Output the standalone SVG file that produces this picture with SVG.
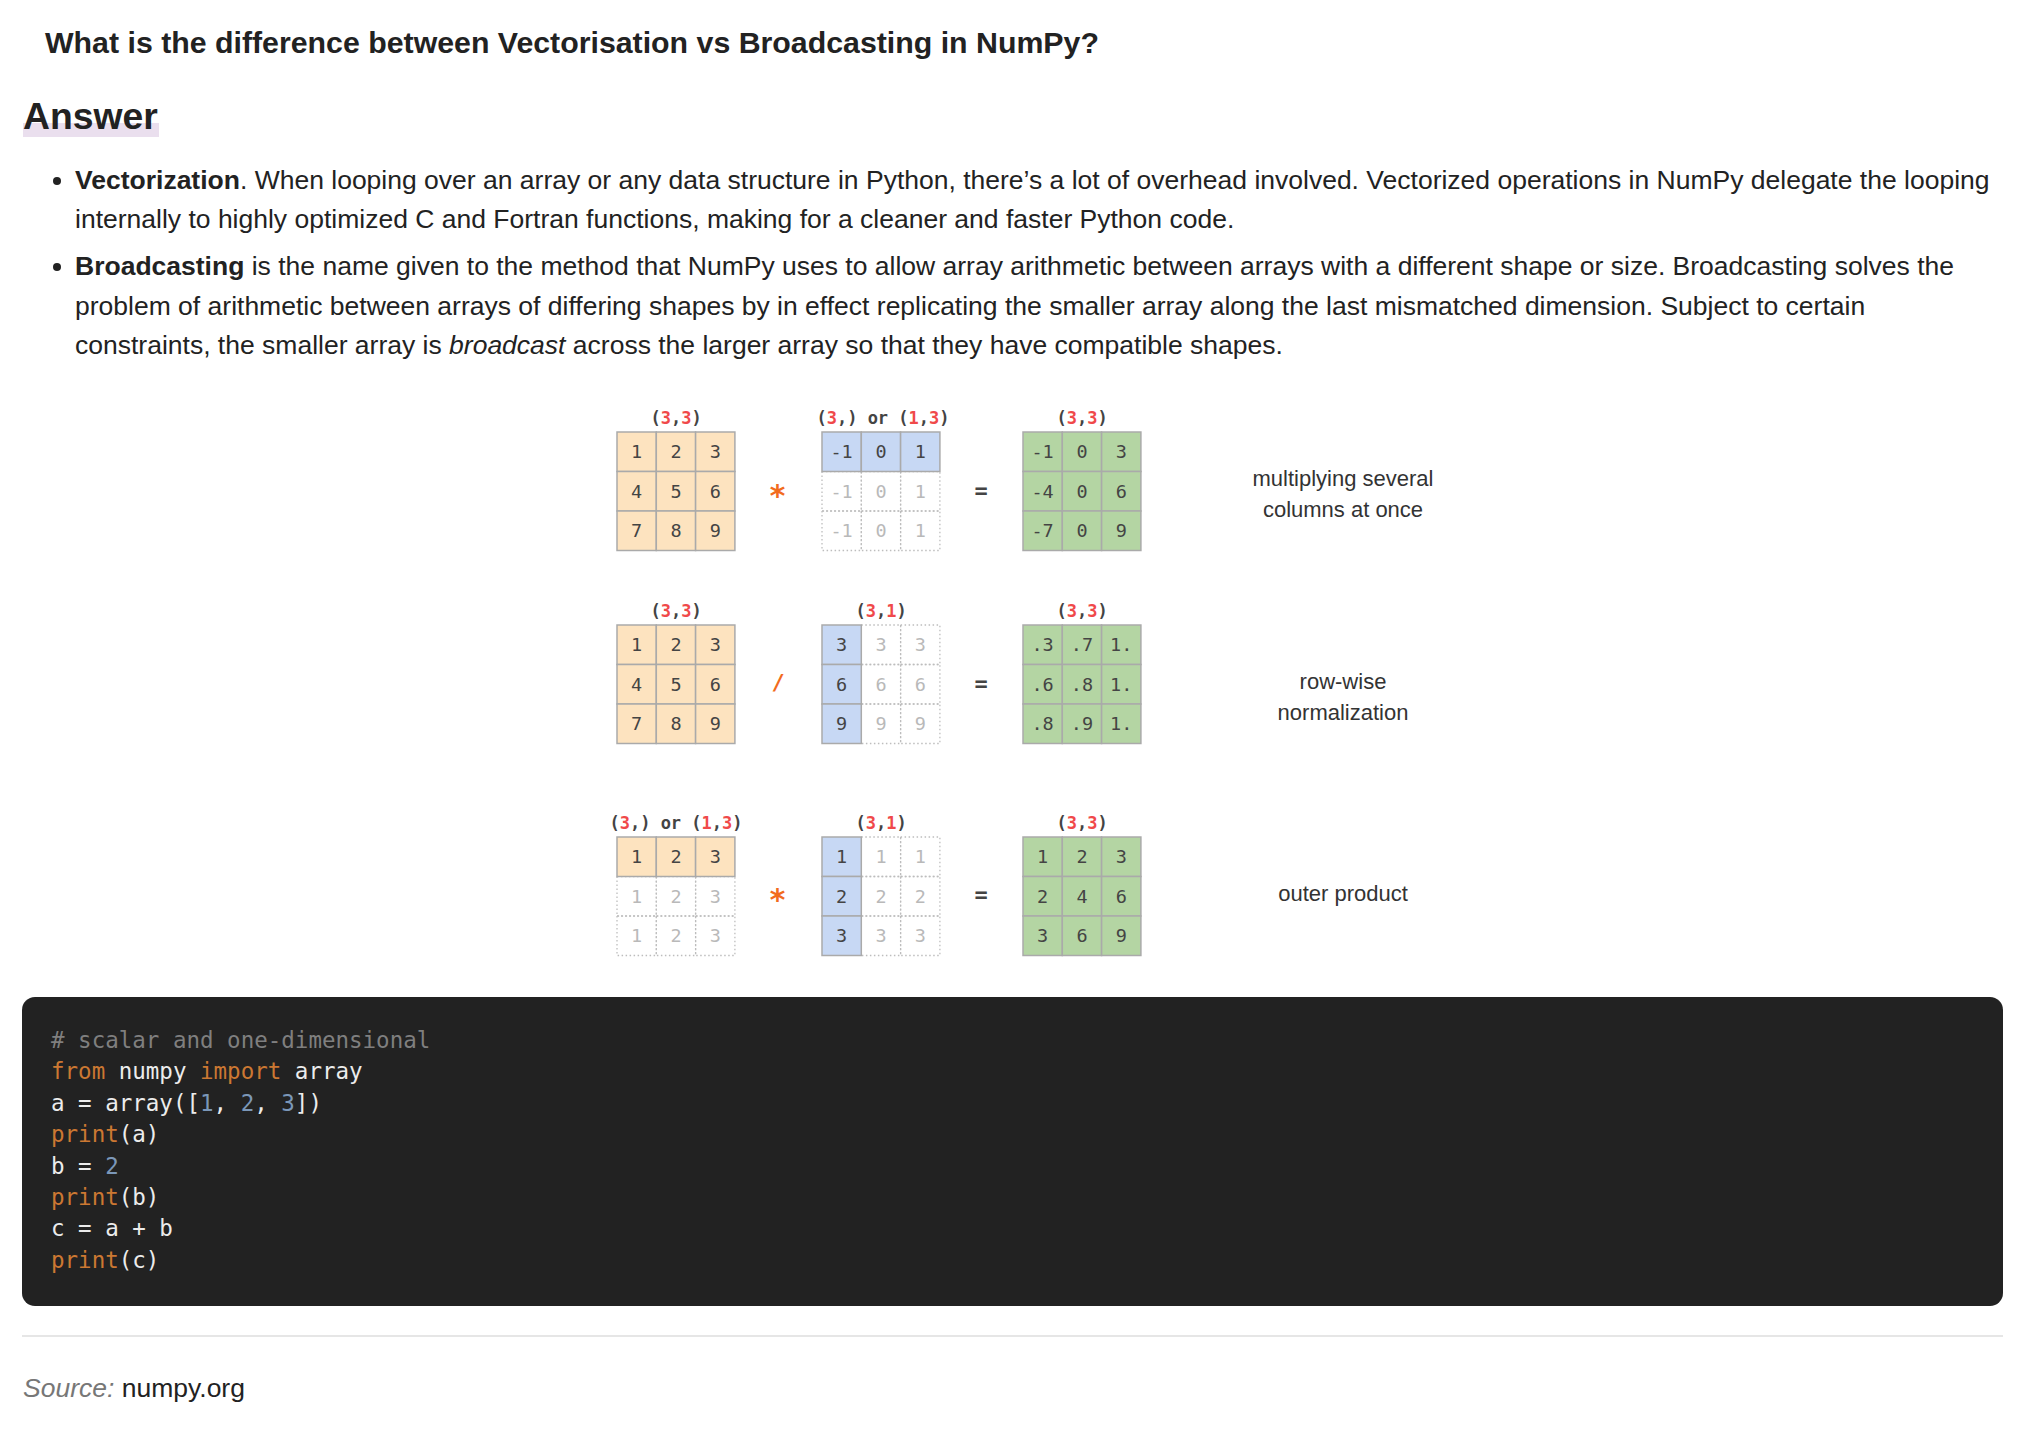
<svg xmlns="http://www.w3.org/2000/svg" width="2038" height="1440" viewBox="0 0 2038 1440">
<style>
.body{font-family:"Liberation Sans",Arial,sans-serif;font-size:26.5px;fill:#222}
.b{font-weight:bold}
.o{fill:#fde3bf;stroke:#aaa;stroke-width:1.5}
.bl{fill:#c7d8f4;stroke:#aaa;stroke-width:1.5}
.g{fill:#b4d5a3;stroke:#aaa;stroke-width:1.5}
.gh{fill:none;stroke:#bdbdbd;stroke-width:1.3;stroke-dasharray:1.5 2.5}
.n{font-family:"DejaVu Sans Mono",monospace;font-size:18.5px;fill:#444;text-anchor:middle}
.f{fill:#b9b9b9}
.sh{font-family:"DejaVu Sans Mono",monospace;font-size:17px;font-weight:bold;fill:#444;text-anchor:middle}
.r{fill:#f0494a}
.op{font-family:"DejaVu Sans Mono",monospace;font-weight:bold;fill:#f26b1d;text-anchor:middle}
.eq{font-family:"DejaVu Sans Mono",monospace;font-weight:bold;font-size:22px;fill:#444;text-anchor:middle}
.lab{font-family:"Liberation Sans",Arial,sans-serif;font-size:22px;fill:#333;text-anchor:middle}
.code{font-family:"DejaVu Sans Mono",monospace;font-size:22.5px;fill:#ececec}
.kw{fill:#cc7832}
.num{fill:#7b97b8}
.cm{fill:#7f7f7f}
</style>
<rect width="2038" height="1440" fill="#fff"/>

<g id="heading">
<text class="body b" x="45" y="53" style="font-size:30.3px">What is the difference between Vectorisation vs Broadcasting in NumPy?</text>
<rect x="23" y="123" width="136" height="14" fill="#eadfee"/>
<text class="body b" x="23" y="129" style="font-size:37.3px">Answer</text>
</g>

<g id="bullets">
<circle cx="57" cy="181" r="4" fill="#222"/>
<text class="body" x="75" y="189"><tspan class="b">Vectorization</tspan>. When looping over an array or any data structure in Python, there’s a lot of overhead involved. Vectorized operations in NumPy delegate the looping</text>
<text class="body" x="75" y="228">internally to highly optimized C and Fortran functions, making for a cleaner and faster Python code.</text>
<circle cx="57" cy="267" r="4" fill="#222"/>
<text class="body" x="75" y="275"><tspan class="b">Broadcasting</tspan> is the name given to the method that NumPy uses to allow array arithmetic between arrays with a different shape or size. Broadcasting solves the</text>
<text class="body" x="75" y="315">problem of arithmetic between arrays of differing shapes by in effect replicating the smaller array along the last mismatched dimension. Subject to certain</text>
<text class="body" x="75" y="354">constraints, the smaller array is <tspan font-style="italic">broadcast</tspan> across the larger array so that they have compatible shapes.</text>
</g>

<g id="row1">
<g id="r1-a">
<text class="sh" x="676" y="424">(<tspan class="r">3</tspan>,<tspan class="r">3</tspan>)</text>
<rect class="o" x="617" y="432" width="39.3" height="39.5"/><rect class="o" x="656.3" y="432" width="39.3" height="39.5"/><rect class="o" x="695.6" y="432" width="39.3" height="39.5"/>
<rect class="o" x="617" y="471.5" width="39.3" height="39.5"/><rect class="o" x="656.3" y="471.5" width="39.3" height="39.5"/><rect class="o" x="695.6" y="471.5" width="39.3" height="39.5"/>
<rect class="o" x="617" y="511" width="39.3" height="39.5"/><rect class="o" x="656.3" y="511" width="39.3" height="39.5"/><rect class="o" x="695.6" y="511" width="39.3" height="39.5"/>
<text class="n" x="636.6" y="458">1</text><text class="n" x="676" y="458">2</text><text class="n" x="715.2" y="458">3</text>
<text class="n" x="636.6" y="497.5">4</text><text class="n" x="676" y="497.5">5</text><text class="n" x="715.2" y="497.5">6</text>
<text class="n" x="636.6" y="537">7</text><text class="n" x="676" y="537">8</text><text class="n" x="715.2" y="537">9</text>
</g>
<text id="r1-op" class="op" x="777.5" y="506" style="font-size:30px">*</text>
<g id="r1-b">
<text class="sh" x="883" y="424">(<tspan class="r">3</tspan>,) or (<tspan class="r">1</tspan>,<tspan class="r">3</tspan>)</text>
<rect class="gh" x="822" y="471.5" width="39.3" height="39.5"/><rect class="gh" x="861.3" y="471.5" width="39.3" height="39.5"/><rect class="gh" x="900.6" y="471.5" width="39.3" height="39.5"/>
<rect class="gh" x="822" y="511" width="39.3" height="39.5"/><rect class="gh" x="861.3" y="511" width="39.3" height="39.5"/><rect class="gh" x="900.6" y="511" width="39.3" height="39.5"/>
<rect class="bl" x="822" y="432" width="39.3" height="39.5"/><rect class="bl" x="861.3" y="432" width="39.3" height="39.5"/><rect class="bl" x="900.6" y="432" width="39.3" height="39.5"/>
<text class="n" x="841.6" y="458">-1</text><text class="n" x="881" y="458">0</text><text class="n" x="920.2" y="458">1</text>
<text class="n f" x="841.6" y="497.5">-1</text><text class="n f" x="881" y="497.5">0</text><text class="n f" x="920.2" y="497.5">1</text>
<text class="n f" x="841.6" y="537">-1</text><text class="n f" x="881" y="537">0</text><text class="n f" x="920.2" y="537">1</text>
</g>
<text id="r1-eq" class="eq" x="981" y="498">=</text>
<g id="r1-c">
<text class="sh" x="1082" y="424">(<tspan class="r">3</tspan>,<tspan class="r">3</tspan>)</text>
<rect class="g" x="1023" y="432" width="39.3" height="39.5"/><rect class="g" x="1062.3" y="432" width="39.3" height="39.5"/><rect class="g" x="1101.6" y="432" width="39.3" height="39.5"/>
<rect class="g" x="1023" y="471.5" width="39.3" height="39.5"/><rect class="g" x="1062.3" y="471.5" width="39.3" height="39.5"/><rect class="g" x="1101.6" y="471.5" width="39.3" height="39.5"/>
<rect class="g" x="1023" y="511" width="39.3" height="39.5"/><rect class="g" x="1062.3" y="511" width="39.3" height="39.5"/><rect class="g" x="1101.6" y="511" width="39.3" height="39.5"/>
<text class="n" x="1042.6" y="458">-1</text><text class="n" x="1082" y="458">0</text><text class="n" x="1121.2" y="458">3</text>
<text class="n" x="1042.6" y="497.5">-4</text><text class="n" x="1082" y="497.5">0</text><text class="n" x="1121.2" y="497.5">6</text>
<text class="n" x="1042.6" y="537">-7</text><text class="n" x="1082" y="537">0</text><text class="n" x="1121.2" y="537">9</text>
</g>
<text id="r1-label" class="lab"><tspan x="1343" y="486">multiplying several</tspan><tspan x="1343" y="517">columns at once</tspan></text>
</g>

<g id="row2">
<g id="r2-a">
<text class="sh" x="676" y="617">(<tspan class="r">3</tspan>,<tspan class="r">3</tspan>)</text>
<rect class="o" x="617" y="625" width="39.3" height="39.5"/><rect class="o" x="656.3" y="625" width="39.3" height="39.5"/><rect class="o" x="695.6" y="625" width="39.3" height="39.5"/>
<rect class="o" x="617" y="664.5" width="39.3" height="39.5"/><rect class="o" x="656.3" y="664.5" width="39.3" height="39.5"/><rect class="o" x="695.6" y="664.5" width="39.3" height="39.5"/>
<rect class="o" x="617" y="704" width="39.3" height="39.5"/><rect class="o" x="656.3" y="704" width="39.3" height="39.5"/><rect class="o" x="695.6" y="704" width="39.3" height="39.5"/>
<text class="n" x="636.6" y="651">1</text><text class="n" x="676" y="651">2</text><text class="n" x="715.2" y="651">3</text>
<text class="n" x="636.6" y="690.5">4</text><text class="n" x="676" y="690.5">5</text><text class="n" x="715.2" y="690.5">6</text>
<text class="n" x="636.6" y="730">7</text><text class="n" x="676" y="730">8</text><text class="n" x="715.2" y="730">9</text>
</g>
<text id="r2-op" class="op" x="778" y="690" style="font-size:22px">/</text>
<g id="r2-b">
<text class="sh" x="881" y="617">(<tspan class="r">3</tspan>,<tspan class="r">1</tspan>)</text>
<rect class="gh" x="861.3" y="625" width="39.3" height="39.5"/><rect class="gh" x="900.6" y="625" width="39.3" height="39.5"/>
<rect class="gh" x="861.3" y="664.5" width="39.3" height="39.5"/><rect class="gh" x="900.6" y="664.5" width="39.3" height="39.5"/>
<rect class="gh" x="861.3" y="704" width="39.3" height="39.5"/><rect class="gh" x="900.6" y="704" width="39.3" height="39.5"/>
<rect class="bl" x="822" y="625" width="39.3" height="39.5"/><rect class="bl" x="822" y="664.5" width="39.3" height="39.5"/><rect class="bl" x="822" y="704" width="39.3" height="39.5"/>
<text class="n" x="841.6" y="651">3</text><text class="n f" x="881" y="651">3</text><text class="n f" x="920.2" y="651">3</text>
<text class="n" x="841.6" y="690.5">6</text><text class="n f" x="881" y="690.5">6</text><text class="n f" x="920.2" y="690.5">6</text>
<text class="n" x="841.6" y="730">9</text><text class="n f" x="881" y="730">9</text><text class="n f" x="920.2" y="730">9</text>
</g>
<text id="r2-eq" class="eq" x="981" y="691">=</text>
<g id="r2-c">
<text class="sh" x="1082" y="617">(<tspan class="r">3</tspan>,<tspan class="r">3</tspan>)</text>
<rect class="g" x="1023" y="625" width="39.3" height="39.5"/><rect class="g" x="1062.3" y="625" width="39.3" height="39.5"/><rect class="g" x="1101.6" y="625" width="39.3" height="39.5"/>
<rect class="g" x="1023" y="664.5" width="39.3" height="39.5"/><rect class="g" x="1062.3" y="664.5" width="39.3" height="39.5"/><rect class="g" x="1101.6" y="664.5" width="39.3" height="39.5"/>
<rect class="g" x="1023" y="704" width="39.3" height="39.5"/><rect class="g" x="1062.3" y="704" width="39.3" height="39.5"/><rect class="g" x="1101.6" y="704" width="39.3" height="39.5"/>
<text class="n" x="1042.6" y="651">.3</text><text class="n" x="1082" y="651">.7</text><text class="n" x="1121.2" y="651">1.</text>
<text class="n" x="1042.6" y="690.5">.6</text><text class="n" x="1082" y="690.5">.8</text><text class="n" x="1121.2" y="690.5">1.</text>
<text class="n" x="1042.6" y="730">.8</text><text class="n" x="1082" y="730">.9</text><text class="n" x="1121.2" y="730">1.</text>
</g>
<text id="r2-label" class="lab"><tspan x="1343" y="689">row-wise</tspan><tspan x="1343" y="720">normalization</tspan></text>
</g>

<g id="row3">
<g id="r3-a">
<text class="sh" x="676" y="829">(<tspan class="r">3</tspan>,) or (<tspan class="r">1</tspan>,<tspan class="r">3</tspan>)</text>
<rect class="gh" x="617" y="876.5" width="39.3" height="39.5"/><rect class="gh" x="656.3" y="876.5" width="39.3" height="39.5"/><rect class="gh" x="695.6" y="876.5" width="39.3" height="39.5"/>
<rect class="gh" x="617" y="916" width="39.3" height="39.5"/><rect class="gh" x="656.3" y="916" width="39.3" height="39.5"/><rect class="gh" x="695.6" y="916" width="39.3" height="39.5"/>
<rect class="o" x="617" y="837" width="39.3" height="39.5"/><rect class="o" x="656.3" y="837" width="39.3" height="39.5"/><rect class="o" x="695.6" y="837" width="39.3" height="39.5"/>
<text class="n" x="636.6" y="863">1</text><text class="n" x="676" y="863">2</text><text class="n" x="715.2" y="863">3</text>
<text class="n f" x="636.6" y="902.5">1</text><text class="n f" x="676" y="902.5">2</text><text class="n f" x="715.2" y="902.5">3</text>
<text class="n f" x="636.6" y="942">1</text><text class="n f" x="676" y="942">2</text><text class="n f" x="715.2" y="942">3</text>
</g>
<text id="r3-op" class="op" x="777.5" y="910" style="font-size:30px">*</text>
<g id="r3-b">
<text class="sh" x="881" y="829">(<tspan class="r">3</tspan>,<tspan class="r">1</tspan>)</text>
<rect class="gh" x="861.3" y="837" width="39.3" height="39.5"/><rect class="gh" x="900.6" y="837" width="39.3" height="39.5"/>
<rect class="gh" x="861.3" y="876.5" width="39.3" height="39.5"/><rect class="gh" x="900.6" y="876.5" width="39.3" height="39.5"/>
<rect class="gh" x="861.3" y="916" width="39.3" height="39.5"/><rect class="gh" x="900.6" y="916" width="39.3" height="39.5"/>
<rect class="bl" x="822" y="837" width="39.3" height="39.5"/><rect class="bl" x="822" y="876.5" width="39.3" height="39.5"/><rect class="bl" x="822" y="916" width="39.3" height="39.5"/>
<text class="n" x="841.6" y="863">1</text><text class="n f" x="881" y="863">1</text><text class="n f" x="920.2" y="863">1</text>
<text class="n" x="841.6" y="902.5">2</text><text class="n f" x="881" y="902.5">2</text><text class="n f" x="920.2" y="902.5">2</text>
<text class="n" x="841.6" y="942">3</text><text class="n f" x="881" y="942">3</text><text class="n f" x="920.2" y="942">3</text>
</g>
<text id="r3-eq" class="eq" x="981" y="902">=</text>
<g id="r3-c">
<text class="sh" x="1082" y="829">(<tspan class="r">3</tspan>,<tspan class="r">3</tspan>)</text>
<rect class="g" x="1023" y="837" width="39.3" height="39.5"/><rect class="g" x="1062.3" y="837" width="39.3" height="39.5"/><rect class="g" x="1101.6" y="837" width="39.3" height="39.5"/>
<rect class="g" x="1023" y="876.5" width="39.3" height="39.5"/><rect class="g" x="1062.3" y="876.5" width="39.3" height="39.5"/><rect class="g" x="1101.6" y="876.5" width="39.3" height="39.5"/>
<rect class="g" x="1023" y="916" width="39.3" height="39.5"/><rect class="g" x="1062.3" y="916" width="39.3" height="39.5"/><rect class="g" x="1101.6" y="916" width="39.3" height="39.5"/>
<text class="n" x="1042.6" y="863">1</text><text class="n" x="1082" y="863">2</text><text class="n" x="1121.2" y="863">3</text>
<text class="n" x="1042.6" y="902.5">2</text><text class="n" x="1082" y="902.5">4</text><text class="n" x="1121.2" y="902.5">6</text>
<text class="n" x="1042.6" y="942">3</text><text class="n" x="1082" y="942">6</text><text class="n" x="1121.2" y="942">9</text>
</g>
<text id="r3-label" class="lab" x="1343" y="901">outer product</text>
</g>

<g id="connectors"/>

<g id="codeblock">
<rect x="22" y="997" width="1981" height="309" rx="13" fill="#222"/>
<text class="code cm" x="51" y="1048"># scalar and one-dimensional</text>
<text class="code" x="51" y="1079.4" xml:space="preserve"><tspan class="kw">from</tspan> numpy <tspan class="kw">import</tspan> array</text>
<text class="code" x="51" y="1110.8" xml:space="preserve">a = array([<tspan class="num">1</tspan>, <tspan class="num">2</tspan>, <tspan class="num">3</tspan>])</text>
<text class="code" x="51" y="1142.2"><tspan class="kw">print</tspan>(a)</text>
<text class="code" x="51" y="1173.6" xml:space="preserve">b = <tspan class="num">2</tspan></text>
<text class="code" x="51" y="1205"><tspan class="kw">print</tspan>(b)</text>
<text class="code" x="51" y="1236.4" xml:space="preserve">c = a + b</text>
<text class="code" x="51" y="1267.8"><tspan class="kw">print</tspan>(c)</text>
</g>

<g id="footer">
<line x1="22" y1="1336" x2="2003" y2="1336" stroke="#e6e6e6" stroke-width="2"/>
<text class="body" x="23" y="1397"><tspan font-style="italic" fill="#777">Source:</tspan> numpy.org</text>
</g>
</svg>
